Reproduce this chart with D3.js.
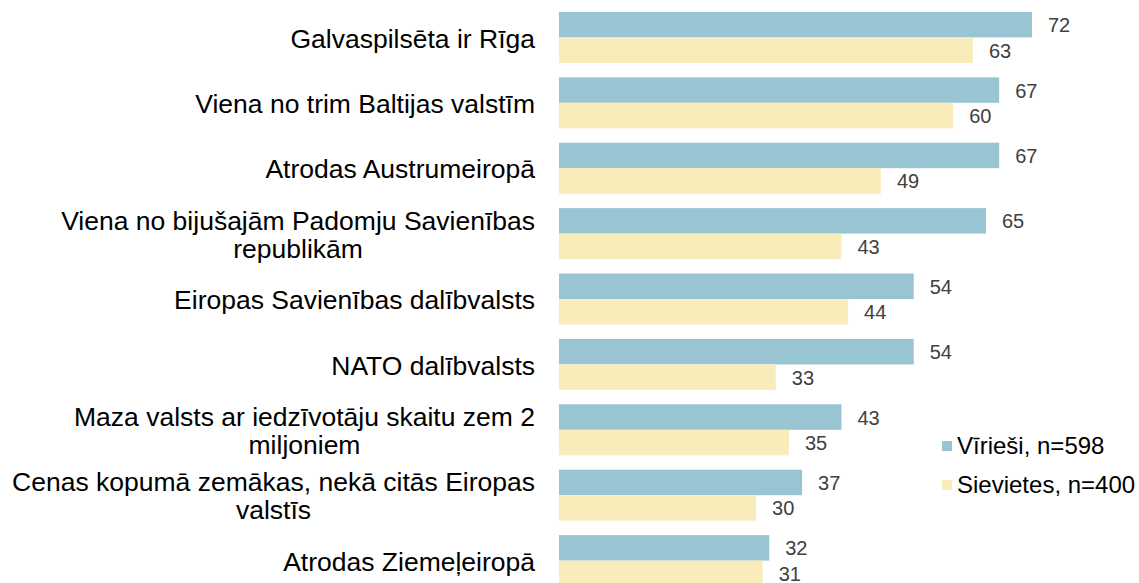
<!DOCTYPE html>
<html>
<head>
<meta charset="utf-8">
<script src="https://cdn.jsdelivr.net/npm/d3@7"></script>
<style>
  body { margin: 0; background: #fff; overflow: hidden; }
  svg { display: block; font-family: "Liberation Sans", Arial, sans-serif; }
</style>
</head>
<body>
<div id="chart"></div>
<script>
// data
var categories = [
  "Galvaspilsēta ir Rīga",
  "Viena no trim Baltijas valstīm",
  "Atrodas Austrumeiropā",
  "Viena no bijušajām Padomju Savienības republikām",
  "Eiropas Savienības dalībvalsts",
  "NATO dalībvalsts",
  "Maza valsts ar iedzīvotāju skaitu zem 2 miljoniem",
  "Cenas kopumā zemākas, nekā citās Eiropas valstīs",
  "Atrodas Ziemeļeiropā"
];
var men = [72, 67, 67, 65, 54, 54, 43, 37, 32];
var women = [63, 60, 49, 43, 44, 33, 35, 30, 31];
var seriesNames = ["Vīrieši, n=598", "Sievietes, n=400"];
var colors = ["#99c5d2", "#f9ecbb"];

var W = 1139, H = 583;
var svg = d3.select("#chart").append("svg").attr("width", W).attr("height", H);

var x = d3.scaleLinear().domain([0, 72]).range([559, 1032]);
var y = d3.scaleBand().domain(categories).range([12 - 7.3, 12 - 7.3 + 65.4 * 9]).paddingInner(0.22).paddingOuter(0.11);
var sub = d3.scaleBand().domain([0, 1]).range([0, y.bandwidth()]);

var rows = categories.map(function(c, i){ return {cat: c, vals: [men[i], women[i]]}; });

var g = svg.selectAll("g.row").data(rows).enter().append("g")
  .attr("class", "row")
  .attr("transform", function(d){ return "translate(0," + y(d.cat) + ")"; });

g.selectAll("rect").data(function(d){ return d.vals; }).enter().append("rect")
  .attr("x", x(0))
  .attr("y", function(d, i){ return sub(i); })
  .attr("width", function(d){ return x(d) - x(0); })
  .attr("height", sub.bandwidth())
  .attr("fill", function(d, i){ return colors[i]; });

g.selectAll("text.val").data(function(d){ return d.vals; }).enter().append("text")
  .attr("class", "val")
  .attr("x", function(d){ return x(d) + 16; })
  .attr("y", function(d, i){ return sub(i) + sub.bandwidth() / 2 + 0.5; })
  .attr("dy", "0.35em")
  .attr("font-size", 20)
  .attr("fill", "#404040")
  .text(function(d){ return d; });

// category labels, wrapped to two lines where needed
var labelRight = 535, lineH = 28, fs = 26.5;
g.each(function(d){
  var t = d3.select(this).append("text")
    .attr("text-anchor", "middle")
    .attr("font-size", fs)
    .attr("fill", "#000");
  var words = d.cat.split(" "), lines = [], cur = [];
  var probe = svg.append("text").attr("font-size", fs);
  words.forEach(function(w){
    cur.push(w);
    probe.text(cur.join(" "));
    if (probe.node().getComputedTextLength() > 535 && cur.length > 1) {
      cur.pop(); lines.push(cur.join(" ")); cur = [w];
    }
  });
  lines.push(cur.join(" "));
  probe.text(lines[0]);
  var w0 = probe.node().getComputedTextLength();
  probe.remove();
  var cx = labelRight - w0 / 2;
  if (lines.length == 1) t.attr("text-anchor", "end");
  var mid = y.bandwidth() / 2 + 1;
  lines.forEach(function(l, k){
    t.append("tspan")
      .attr("x", lines.length == 1 ? labelRight : cx)
      .attr("y", mid + (k - (lines.length - 1) / 2) * lineH)
      .attr("dy", "0.35em")
      .text(l);
  });
});

// legend
var leg = svg.selectAll("g.leg").data(seriesNames).enter().append("g")
  .attr("class", "leg")
  .attr("transform", function(d, i){ return "translate(942," + (446 + i * 39) + ")"; });
leg.append("rect").attr("x", 0).attr("y", -5).attr("width", 10).attr("height", 10)
  .attr("fill", function(d, i){ return colors[i]; });
leg.append("text").attr("x", 15).attr("dy", "0.35em").attr("font-size", 24).attr("fill", "#000")
  .text(function(d){ return d; });
</script>
</body>
</html>
